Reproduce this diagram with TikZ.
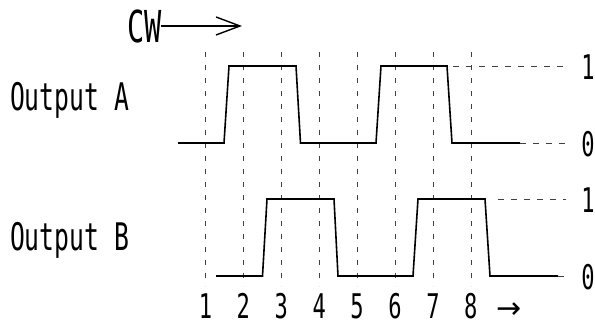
\documentclass[tikz,border=0pt]{standalone}
\usepackage{fontspec}
\setmainfont{DejaVu Sans Mono}[FakeStretch=0.65]
\newfontfamily\arrfont{DejaVu Sans}
\usepackage{tikz}
\usetikzlibrary{positioning,arrows.meta}

\begin{document}
\begin{tikzpicture}[
    x=1pt, y=-1pt,
    every node/.style={inner sep=0pt, outer sep=0pt},
    sig/.style={line width=1.6pt, line join=miter},
    gridline/.style={line width=0.6pt, black!75, dash pattern=on 5pt off 8pt},
    lvl/.style={line width=0.6pt, black!75, dash pattern=on 6pt off 7pt},
    big/.style={font=\fontsize{38}{40}\selectfont},
    num/.style={font=\fontsize{34}{36}\selectfont}
]
\useasboundingbox (0,0) rectangle (595,324);

% vertical grid
\foreach \i in {1,...,8}{
    \draw[gridline] ({205.5+37.9*(\i-1)},52) -- ({205.5+37.9*(\i-1)},286);
    \node[num, anchor=base] (n\i) at ({205.5+37.9*(\i-1)},318.5) {\i};
}
\node[font=\arrfont\fontsize{30}{32}\selectfont, anchor=base] (dir) at (509,318) {→};

% labels
\node[big, anchor=base west] (outA) at (10,110) {Output A};
\node[big, anchor=base west] (outB) at (10,250) {Output B};
\node[font=\fontsize{44}{46}\selectfont, anchor=base west] (cw) at (127,42) {CW};
\coordinate (cwend) at (242,0);
\draw[line width=1.4pt, -{Straight Barb[length=24pt,width=18pt,line width=1.4pt]}]
    (cw.east) -- (cw.east -| cwend);

% output A
\draw[sig] (178,143) -- (224,143) -- (229,66) -- (296,66) -- (300.5,143)
    -- (376,143) -- (381,66) -- (447,66) -- (452,143) -- (520,143);
\draw[lvl] (453,66) -- (566,66);
\draw[lvl] (520,143) -- (566,143);
\node[num, anchor=base] (a1) at (588,79) {1};
\node[num, anchor=base] (a0) at (588,156) {0};

% output B
\draw[sig] (216,276) -- (262.5,276) -- (267,199) -- (334,199) -- (338,276)
    -- (413,276) -- (418,199) -- (485,199) -- (490,276) -- (558,276);
\draw[lvl] (498,199) -- (566,199);
\draw[lvl] (558,276) -- (570,276);
\node[num, anchor=base] (b1) at (588,212) {1};
\node[num, anchor=base] (b0) at (588,289) {0};
\end{tikzpicture}
\end{document}
